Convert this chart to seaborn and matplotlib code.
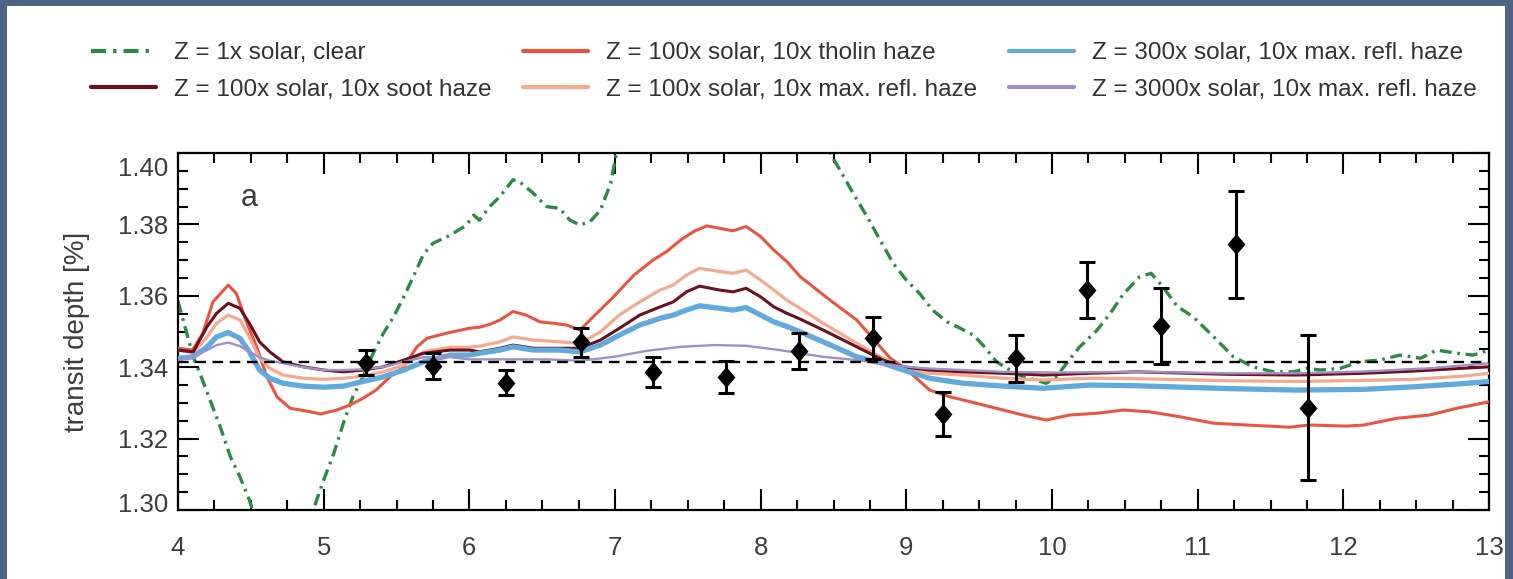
import matplotlib
matplotlib.use("Agg")
import matplotlib.pyplot as plt
import matplotlib.transforms as mtransforms
from matplotlib.patches import Rectangle
from matplotlib.ticker import MultipleLocator, FixedLocator
import seaborn as sns

# ---------------------------------------------------------------- data
# wavelength [micron] / transit depth [%] for each model spectrum
clear_x = [4.00, 4.06, 4.105, 4.15, 4.22, 4.29, 4.36, 4.425, 4.49, 4.51, 4.60, 4.70,
           4.80, 4.93, 5.00, 5.07, 5.135, 5.20, 5.27, 5.34, 5.41, 5.48, 5.55, 5.615,
           5.685, 5.75, 5.87, 5.98, 6.03, 6.07, 6.14, 6.21, 6.30, 6.35, 6.44, 6.53,
           6.62, 6.69, 6.76, 6.83, 6.90, 6.97, 7.01, 7.10, 7.40, 7.80, 8.20, 8.476,
           8.545, 8.635, 8.73, 8.82, 8.91, 9.00, 9.09, 9.18, 9.28, 9.37, 9.46, 9.53,
           9.62, 9.71, 9.80, 9.89, 9.96, 10.03, 10.10, 10.19, 10.31, 10.40, 10.49,
           10.60, 10.68, 10.76, 10.86, 10.97, 11.11, 11.245, 11.38, 11.52, 11.66,
           11.75, 11.84, 11.98, 12.11, 12.25, 12.39, 12.53, 12.64, 12.78, 12.89, 13.00]
clear_y = [1.3585, 1.3495, 1.3429, 1.3383, 1.3308, 1.3233, 1.3149, 1.3093, 1.3028,
           1.3002, 1.2930, 1.2880, 1.2885, 1.3002, 1.3084, 1.3159, 1.3243, 1.3317,
           1.3373, 1.3439, 1.3495, 1.3541, 1.3597, 1.3653, 1.3716, 1.3747, 1.3770,
           1.3798, 1.3826, 1.3812, 1.3850, 1.3878, 1.3925, 1.3918, 1.3887, 1.3850,
           1.3845, 1.3812, 1.3798, 1.3808, 1.3840, 1.3915, 1.3999, 1.4150, 1.4400,
           1.4500, 1.4300, 1.4000, 1.3952, 1.3887, 1.3822, 1.3756, 1.3691, 1.3644,
           1.3607, 1.3560, 1.3527, 1.3509, 1.3490, 1.3460, 1.3415, 1.3392, 1.3373,
           1.3364, 1.3355, 1.3373, 1.3411, 1.3457, 1.3504, 1.3551, 1.3605, 1.3653,
           1.3663, 1.3626, 1.3570, 1.3541, 1.3485, 1.3429, 1.3401, 1.3387, 1.3387,
           1.3397, 1.3392, 1.3397, 1.3415, 1.3420, 1.3434, 1.3425, 1.3448, 1.3439,
           1.3434, 1.3448]

tholin_x = [4.00, 4.10, 4.17, 4.24, 4.345, 4.40, 4.47, 4.54, 4.61, 4.68, 4.77, 4.91,
            4.98, 5.09, 5.18, 5.27, 5.36, 5.455, 5.55, 5.64, 5.71, 5.84, 6.00, 6.07,
            6.14, 6.21, 6.30, 6.39, 6.485, 6.58, 6.67, 6.76, 6.85, 6.99, 7.13, 7.26,
            7.355, 7.45, 7.54, 7.63, 7.72, 7.81, 7.90, 8.00, 8.09, 8.18, 8.27, 8.476,
            8.66, 8.80, 8.89, 8.98, 9.07, 9.16, 9.30, 9.48, 9.665, 9.80, 9.96, 10.12,
            10.31, 10.49, 10.67, 10.88, 11.11, 11.34, 11.63, 11.77, 12.02, 12.14,
            12.37, 12.59, 12.78, 13.00]
tholin_y = [1.3453, 1.3448, 1.3495, 1.3583, 1.3630, 1.3607, 1.3527, 1.3457, 1.3373,
            1.3317, 1.3285, 1.3275, 1.3269, 1.3280, 1.3294, 1.3313, 1.3336, 1.3373,
            1.3401, 1.3457, 1.3481, 1.3495, 1.3509, 1.3512, 1.3520, 1.3532, 1.3556,
            1.3546, 1.3527, 1.3523, 1.3518, 1.3504, 1.3541, 1.3597, 1.3658, 1.3700,
            1.3724, 1.3756, 1.3780, 1.3796, 1.3789, 1.3782, 1.3794, 1.3766, 1.3728,
            1.3696, 1.3654, 1.3588, 1.3532, 1.3467, 1.3425, 1.3401, 1.3369, 1.3336,
            1.3317, 1.3299, 1.3280, 1.3266, 1.3252, 1.3266, 1.3271, 1.3280, 1.3275,
            1.3261, 1.3243, 1.3238, 1.3232, 1.3238, 1.3235, 1.3238, 1.3257, 1.3266,
            1.3285, 1.3303]

# shared wavelength grid for the three 100x / 300x haze models
haze_x = [4.00, 4.105, 4.20, 4.265, 4.345, 4.425, 4.49, 4.56, 4.63, 4.72, 4.86, 5.00,
          5.135, 5.27, 5.41, 5.55, 5.685, 5.87, 6.00, 6.07, 6.21, 6.30, 6.44, 6.62,
          6.76, 6.90, 7.03, 7.17, 7.31, 7.40, 7.49, 7.58, 7.72, 7.81, 7.90, 8.00,
          8.09, 8.18, 8.27, 8.43, 8.66, 8.84, 8.98, 9.16, 9.39, 9.665, 9.94, 10.26,
          10.58, 11.22, 11.68, 12.14, 12.48, 12.82, 13.00]
soot_y = [1.3448, 1.3443, 1.3514, 1.3551, 1.3579, 1.3565, 1.3523, 1.3471, 1.3443,
          1.3415, 1.3401, 1.3392, 1.3387, 1.3392, 1.3401, 1.3420, 1.3439, 1.3448,
          1.3448, 1.3443, 1.3453, 1.3462, 1.3453, 1.3453, 1.3453, 1.3476, 1.3509,
          1.3546, 1.3569, 1.3583, 1.3611, 1.3627, 1.3616, 1.3611, 1.3621, 1.3597,
          1.3569, 1.3551, 1.3535, 1.3504, 1.3457, 1.3420, 1.3401, 1.3392, 1.3387,
          1.3383, 1.3378, 1.3383, 1.3387, 1.3380, 1.3378, 1.3383, 1.3389, 1.3397,
          1.3401]
refl100_y = [1.3448, 1.3439, 1.3485, 1.3523, 1.3546, 1.3532, 1.3485, 1.3425, 1.3397,
             1.3378, 1.3369, 1.3366, 1.3369, 1.3375, 1.3387, 1.3406, 1.3443, 1.3456,
             1.3456, 1.3459, 1.3471, 1.3485, 1.3476, 1.3471, 1.3467, 1.3499, 1.3546,
             1.3583, 1.3616, 1.3630, 1.3658, 1.3677, 1.3668, 1.3663, 1.3672, 1.3644,
             1.3616, 1.3588, 1.3565, 1.3523, 1.3467, 1.3425, 1.3401, 1.3383, 1.3378,
             1.3369, 1.3364, 1.3369, 1.3368, 1.3362, 1.3360, 1.3363, 1.3366, 1.3375,
             1.3383]
refl300_y = [1.3425, 1.3429, 1.3457, 1.3485, 1.3497, 1.3481, 1.3443, 1.3392, 1.3369,
             1.3355, 1.3347, 1.3344, 1.3347, 1.3360, 1.3373, 1.3392, 1.3415, 1.3434,
             1.3434, 1.3439, 1.3448, 1.3457, 1.3448, 1.3448, 1.3443, 1.3462, 1.3490,
             1.3518, 1.3537, 1.3546, 1.3560, 1.3572, 1.3565, 1.3560, 1.3567, 1.3546,
             1.3527, 1.3514, 1.3499, 1.3471, 1.3429, 1.3411, 1.3392, 1.3369, 1.3355,
             1.3347, 1.3341, 1.3350, 1.3348, 1.3340, 1.3336, 1.3338, 1.3345, 1.3354,
             1.3360]

refl3000_x = [4.00, 4.105, 4.20, 4.265, 4.345, 4.425, 4.49, 4.56, 4.63, 4.72, 4.86,
              5.00, 5.135, 5.27, 5.41, 5.55, 5.685, 5.87, 6.00, 6.14, 6.30, 6.53, 6.76,
              6.99, 7.22, 7.45, 7.68, 7.90, 8.13, 8.27, 8.43, 8.66, 8.89, 9.12, 9.39,
              9.665, 10.03, 10.58, 11.22, 11.68, 12.14, 12.59, 13.00]
refl3000_y = [1.3420, 1.3428, 1.3448, 1.3462, 1.3469, 1.3459, 1.3443, 1.3428, 1.3418,
              1.3411, 1.3400, 1.3392, 1.3392, 1.3394, 1.3401, 1.3415, 1.3428, 1.3428,
              1.3422, 1.3422, 1.3422, 1.3422, 1.3418, 1.3429, 1.3446, 1.3457, 1.3462,
              1.3460, 1.3448, 1.3439, 1.3429, 1.3420, 1.3406, 1.3397, 1.3392, 1.3387,
              1.3385, 1.3387, 1.3383, 1.3383, 1.3388, 1.3397, 1.3411]

# observed transit depths with 1-sigma uncertainties
obs_x = [5.29, 5.75, 6.25, 6.77, 7.26, 7.76, 8.26, 8.77, 9.25, 9.75, 10.24, 10.75,
         11.26, 11.76]
obs_y = [1.3413, 1.3403, 1.3357, 1.3470, 1.3387, 1.3373, 1.3446, 1.3483, 1.3269,
         1.3425, 1.3616, 1.3515, 1.3744, 1.3287]
obs_err = [0.0036, 0.0036, 0.0036, 0.0041, 0.0042, 0.0045, 0.0051, 0.0059, 0.0061,
           0.0066, 0.0079, 0.0106, 0.0150, 0.0203]

flat_depth = 1.3414

labels = [
    "Z = 1x solar, clear",
    "Z = 100x solar, 10x soot haze",
    "Z = 100x solar, 10x tholin haze",
    "Z = 100x solar, 10x max. refl. haze",
    "Z = 300x solar, 10x max. refl. haze",
    "Z = 3000x solar, 10x max. refl. haze",
]
y_ticks = [1.30, 1.32, 1.34, 1.36, 1.38, 1.40]
x_ticks = list(range(4, 14))

# ---------------------------------------------------------------- style
sns.set_style("ticks")
plt.rcParams["font.family"] = ["Liberation Sans", "DejaVu Sans"]
TEXT = "#3d3d3d"

W, H = 1513, 579
fig = plt.figure(figsize=(W / 100, H / 100), dpi=100)
fig.patch.set_facecolor("#4e6283")
fig.add_artist(Rectangle((7 / W, 0), (1505 - 7) / W, (H - 6) / H,
                         transform=fig.transFigure, facecolor="white",
                         edgecolor="none", zorder=-5))

ax = fig.add_axes([178 / W, 1 - 510 / H, (1489 - 178) / W, (510 - 153) / H])
ax.set_facecolor("white")

green = "#2b8a45"
soot = "#6c1020"
tholin = "#e9553f"
salmon = "#f6aa8d"
blue = "#62aadb"
purple = "#9f91c8"

sns.lineplot(x=clear_x, y=clear_y, ax=ax, color=green, lw=2.4,
             linestyle=(0, (3.6, 1.7, 0.8, 1.7)), label=labels[0], zorder=2)
sns.lineplot(x=tholin_x, y=tholin_y, ax=ax, color=tholin, lw=2.2,
             label=labels[2], zorder=3)
sns.lineplot(x=haze_x, y=refl100_y, ax=ax, color=salmon, lw=2.3,
             label=labels[3], zorder=3)
sns.lineplot(x=haze_x, y=soot_y, ax=ax, color=soot, lw=2.2,
             label=labels[1], zorder=3)
sns.lineplot(x=haze_x, y=refl300_y, ax=ax, color=blue, lw=3.8,
             label=labels[4], zorder=3)
sns.lineplot(x=refl3000_x, y=refl3000_y, ax=ax, color=purple, lw=1.7,
             label=labels[5], zorder=3)

ax.axhline(flat_depth, color="black", lw=1.7, linestyle=(0, (4.5, 2.8)), zorder=4)

ax.errorbar(obs_x, obs_y, yerr=obs_err, fmt="none", ecolor="black",
            elinewidth=2.2, capsize=6, capthick=2.2, zorder=5)
diamond = [(0, 1), (0.85, 0), (0, -1), (-0.85, 0), (0, 1)]
sns.scatterplot(x=obs_x, y=obs_y, ax=ax, marker=diamond, s=230, color="black",
                edgecolor="black", linewidth=0, zorder=6)

ax.set_xlim(4, 13)
ax.set_ylim(1.30, 1.40)
ax.xaxis.set_major_locator(FixedLocator(x_ticks))
ax.xaxis.set_minor_locator(MultipleLocator(0.25))
ax.yaxis.set_major_locator(FixedLocator(y_ticks))
ax.yaxis.set_minor_locator(MultipleLocator(0.005))
ax.set_xticklabels([str(v) for v in x_ticks])
ax.set_yticklabels([f"{v:.2f}" for v in y_ticks])

for s in ax.spines.values():
    s.set_linewidth(1.6)
    s.set_color("black")
    s.set_visible(True)

ax.tick_params(which="both", direction="in", top=True, right=True,
               color="black", width=1.5, labelcolor=TEXT, labelsize=18.5)
ax.tick_params(which="major", length=15)
ax.tick_params(which="minor", length=7.5)
ax.tick_params(axis="x", which="major", pad=19)
ax.tick_params(axis="y", which="major", pad=7)

# nudge the end labels of the y axis inward
for lab, v in zip(ax.get_yticklabels(), y_ticks):
    if abs(v - 1.40) < 1e-9:
        lab.set_transform(lab.get_transform() +
                          mtransforms.ScaledTranslation(0, -13 / 100, fig.dpi_scale_trans))
    elif abs(v - 1.30) < 1e-9:
        lab.set_transform(lab.get_transform() +
                          mtransforms.ScaledTranslation(0, 8 / 100, fig.dpi_scale_trans))

ax.set_xlabel("")
ax.set_ylabel("transit depth [%]", fontsize=20, color=TEXT)
ax.yaxis.set_label_coords((90 - 178) / (1489 - 178), 0.5)

ax.text(4.43, 1.3874, "a", fontsize=22, color=TEXT, ha="left", va="center")

# legend above the panel, three columns
handles, labs = ax.get_legend_handles_labels()
lookup = dict(zip(labs, handles))
ax.get_legend().remove()
leg = fig.legend([lookup[l] for l in labels], labels, ncol=3, loc="center",
                 bbox_to_anchor=(784 / W, 1 - 71.5 / H), frameon=False,
                 fontsize=17.5, labelcolor="#333333", handlelength=2.67,
                 handletextpad=0.74, columnspacing=1.3, labelspacing=0.6)
for line in leg.get_lines():
    line.set_linewidth(3.0)

fig.savefig("out.png", dpi=100, facecolor=fig.get_facecolor())
